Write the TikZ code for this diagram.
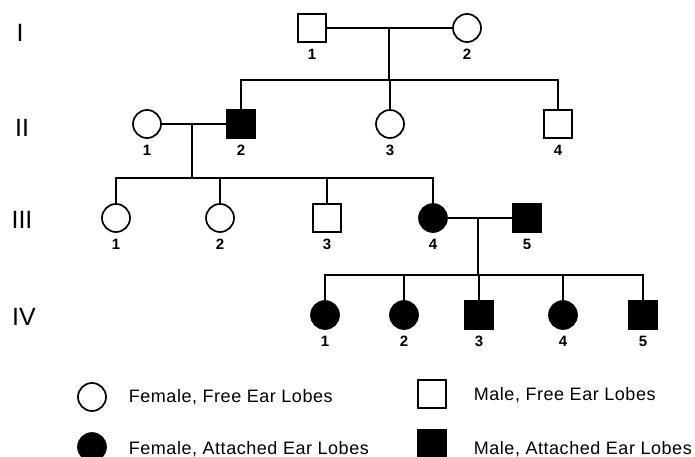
\documentclass[tikz,border=0pt]{standalone}
\usepackage{fontspec}
\setmainfont{Liberation Sans}
\usetikzlibrary{calc}

\begin{document}
\begin{tikzpicture}[x=1pt,y=-1pt,line width=1.7pt,
  fem/.style={circle,draw,line width=1.7pt,minimum size=28pt,inner sep=0pt,fill=white},
  mal/.style={rectangle,draw,line width=2.6pt,minimum size=28pt,inner sep=0pt,fill=white},
  femA/.style={fem,fill=black},
  malA/.style={mal,fill=black},
  tag/.style={label={[font=\bfseries\fontsize{15}{15}\selectfont,inner sep=0pt,label distance=5pt]below:#1}},
  gen/.style={font=\fontsize{25}{25}\selectfont},
  leg/.style={anchor=west,inner sep=0pt,font=\fontsize{18}{18}\selectfont\addfontfeatures{LetterSpace=3}}]
  \useasboundingbox (0,0) rectangle (695,457);

  % generations
  \node[gen] (gI) at (20,33) {I};
  \node[gen] (gII) at (22,128) {II};
  \node[gen] (gIII) at (22,220) {III};
  \node[gen] (gIV) at (24,317) {IV};

  % people
  \node[mal,tag=1] (I1) at (312,28) {};
  \node[fem,tag=2] (I2) at (467,28) {};
  \foreach \n/\x/\s in {1/147/fem, 2/241/malA, 3/390/fem, 4/558/mal}
    \node[\s,tag=\n] (II\n) at (\x,124) {};
  \foreach \n/\x/\s in {1/116/fem, 2/220/fem, 3/327/mal, 4/433/femA, 5/527/malA}
    \node[\s,tag=\n] (III\n) at (\x,218) {};
  \foreach \n/\x/\s in {1/325/femA, 2/404/femA, 3/479/malA, 4/563/femA, 5/643/malA}
    \node[\s,tag=\n] (IV\n) at (\x,315) {};

  % families
  \coordinate (mI) at (389,28);
  \coordinate (sI) at (389,80);
  \draw (I1) -- (I2);
  \draw (mI) -- (sI);
  \draw (II2.north) |- (sI) -| (II4.north);
  \draw (II3.north) -- (II3.north |- sI);

  \coordinate (mII) at (192,124);
  \coordinate (sII) at (192,178);
  \draw (II1) -- (II2);
  \draw (mII) -- (sII);
  \draw (III1.north) |- (sII) -| (III4.north);
  \foreach \n in {2,3}
    \draw (III\n.north) -- (III\n.north |- sII);

  \coordinate (mIII) at (478,218);
  \coordinate (sIII) at (478,275);
  \draw (III4) -- (III5);
  \draw (mIII) -- (sIII);
  \draw (IV1.north) |- (sIII) -| (IV5.north);
  \foreach \n in {2,3,4}
    \draw (IV\n.north) -- (IV\n.north |- sIII);

  % key
  \node[fem] (kFF) at (92,397) {};
  \node[leg] (tFF) at (128,397) {Female, Free Ear Lobes};
  \node[femA] (kFA) at (92,447) {};
  \node[leg] (tFA) at (128,449) {Female, Attached Ear Lobes};
  \node[mal] (kMF) at (432,394) {};
  \node[leg] (tMF) at (473,395) {Male, Free Ear Lobes};
  \node[malA] (kMA) at (432,444) {};
  \node[leg] (tMA) at (473,449) {Male, Attached Ear Lobes};
\end{tikzpicture}
\end{document}
